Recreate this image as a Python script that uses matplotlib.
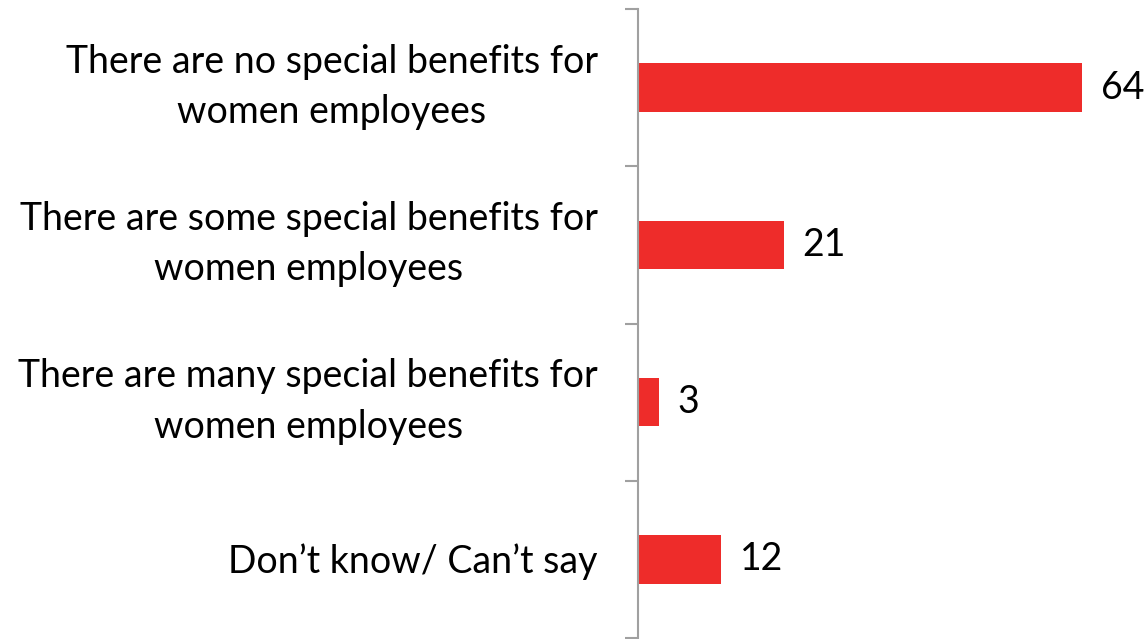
import matplotlib.pyplot as plt
import matplotlib.transforms as mtransforms
import numpy as np

# survey answers, top to bottom
categories = [
    "There are no special benefits for\nwomen employees",
    "There are some special benefits for\nwomen employees",
    "There are many special benefits for\nwomen employees",
    "Don\u2019t know/ Can\u2019t say",
]
values = [64, 21, 3, 12]

BAR_COLOR = "#EE2C2A"
AXIS_COLOR = "#A0A0A0"
FONT = "Lato"
FS = 27

fig = plt.figure(figsize=(11.46, 6.39), dpi=100, facecolor="white")
W, H = 1146, 639
# axes spans from the vertical axis line to the end of the longest bar
ax = fig.add_axes([638 / W, 1 / H, (1082 - 638) / W, (638 - 9) / H])

y = np.arange(len(categories))
ax.barh(y, values, height=0.31, color=BAR_COLOR, edgecolor="none", zorder=2)

ax.set_xlim(0, max(values))
ax.set_ylim(len(categories) - 0.5, -0.5)

for spine in ["top", "right", "bottom"]:
    ax.spines[spine].set_visible(False)
ax.spines["left"].set_color(AXIS_COLOR)
ax.spines["left"].set_linewidth(1.5)
ax.set_xticks([])

# category boundaries as short ticks, labels placed by hand
ax.set_yticks([])
ax.set_yticks(np.arange(-0.5, len(categories)), minor=True)
ax.tick_params(axis="y", which="minor", length=9.5, width=1.5, color=AXIS_COLOR)

label_trans = mtransforms.blended_transform_factory(ax.transAxes, ax.transData)
for yi, cat in zip(y, categories):
    # baseline of the last line, in pixels below the bar centre
    dy = -35.5 if "\n" in cat else -13.5
    off = mtransforms.ScaledTranslation(-40 / 100, dy / 100, fig.dpi_scale_trans)
    ax.text(0, yi, cat, transform=label_trans + off, ha="right", va="baseline",
            multialignment="center", linespacing=1.49,
            fontsize=FS, family=FONT, color="black")

for yi, v in zip(y, values):
    ax.annotate(str(v), (v, yi), xytext=(19, 0), textcoords="offset pixels",
                ha="left", va="center", fontsize=FS, family=FONT,
                color="black", annotation_clip=False)

fig.savefig("out.png", dpi=100, facecolor="white")
